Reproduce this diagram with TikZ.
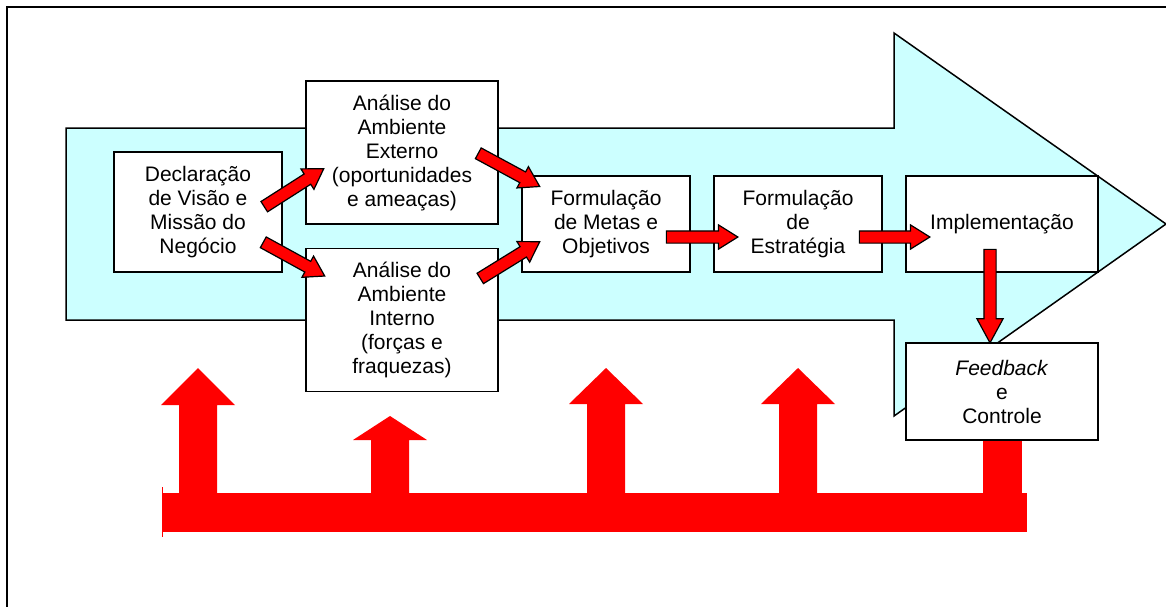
\documentclass[tikz,border=0pt]{standalone}
\usepackage{fontspec}
\setmainfont{Liberation Sans}
\usetikzlibrary{calc, shapes.arrows}

\definecolor{lightcyan}{RGB}{204,255,255}

\tikzset{
	stage/.style = {draw, fill=white, line width=1.5pt, align=center, inner sep=0pt, font=\fontsize{21}{24}\selectfont},
	flow/.style = {single arrow, draw, fill=red, line width=1.2pt, inner xsep=0pt, inner ysep=5.5pt, minimum width=23pt,
		single arrow head extend=6pt, single arrow tip angle=64, single arrow head indent=0pt},
}

\newcommand{\redarrow}[3][]{%
	\path let \p1 = (#2), \p2 = (#3), \n1 = {atan2(\y2-\y1, \x2-\x1)}, \n2 = {veclen(\x2-\x1, \y2-\y1)} in
		node [flow, #1, minimum height=\n2, rotate=\n1, anchor=tail] at (\p1) {};
}

\begin{document}
\begin{tikzpicture}[x=1pt, y=-1pt]
		\useasboundingbox (0,0) rectangle (1166,606);
		\draw[line width=1.5pt] (7,7) rectangle (1185,625);
		
		\draw[fill=lightcyan, line width=1.5pt] (66,128) -- (894,128) -- (894,33) -- (1166,224) -- (894,416) -- (894,320) -- (66,320) -- cycle;
		
		\begin{scope}[red]
			\foreach \cx/\tip/\base in {198/368/405, 390/416/440, 606/368/404, 798/368/404}
				\fill (\cx-19,494) -- (\cx-19,\base) -- (\cx-37,\base) -- (\cx,\tip) -- (\cx+37,\base) -- (\cx+19,\base) -- (\cx+19,494) -- cycle;
			\fill (162,493) rectangle (1027,532);
			\fill (983,438) rectangle (1022,494);
			\draw[line width=1pt] (162,487) -- (162,537);
		\end{scope}
		
		\node[stage, minimum width=168pt, minimum height=120pt] (decl) at (198,212) {Declaração\\de Visão e\\Missão do\\Negócio};
		\node[stage, minimum width=192pt, minimum height=143pt] (ext) at (402,152.5) {Análise do\\Ambiente\\Externo\\(oportunidades\\e ameaças)};
		\node[stage, minimum width=192pt, minimum height=143pt] (int) at (402,320) {Análise do\\Ambiente\\Interno\\(forças e\\fraquezas)};
		\node[stage, minimum width=168pt, minimum height=96pt] (metas) at (606,224) {Formulação\\de Metas e\\Objetivos};
		\node[stage, minimum width=168pt, minimum height=96pt] (estr) at (798,224) {Formulação\\de\\Estratégia};
		\node[stage, minimum width=192pt, minimum height=96pt] (impl) at (1002,224) {Implementação};
		\node[stage, minimum width=192pt, minimum height=97pt] (fb) at (1002,391.5) {\textit{Feedback}\\e\\Controle};
		
		\redarrow{$(decl.east)+(-19,-5)$}{$(ext.west)+(18,16.5)$}
		\redarrow{$(decl.east)+(-20,30)$}{$(int.north west)+(19,28)$}
		\redarrow{$(ext.east)+(-21,0.5)$}{$(metas.north west)+(18,11)$}
		\redarrow{$(int.north east)+(-19,31)$}{$(metas.west)+(18,18)$}
		\redarrow{$(metas.east)+(-25,13)$}{$(estr.west)+(24,13)$}
		\redarrow{$(estr.east)+(-24,13)$}{$(impl.west)+(24,13)$}
		\redarrow[minimum width=25pt, single arrow head extend=7pt, single arrow tip angle=57]{$(impl.south)+(-12,-24)$}{$(fb.north)+(-12,0)$}
	\end{tikzpicture}
\end{document}
